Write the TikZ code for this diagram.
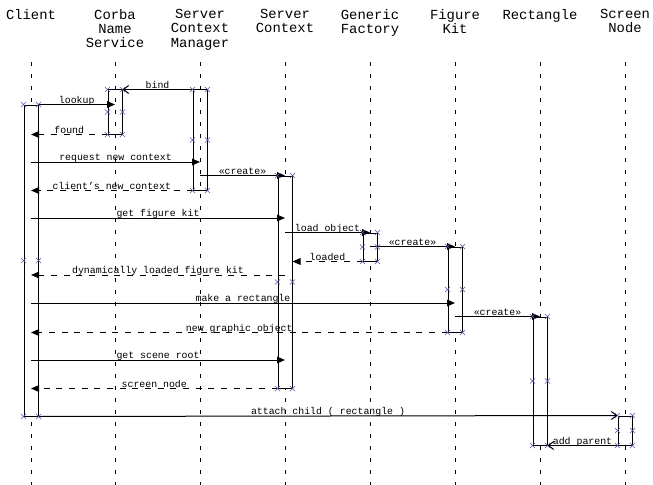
\documentclass[tikz,border=0pt]{standalone}
\usepackage{fontspec}
\usepackage{tikz}
\setmainfont{Liberation Mono}
\definecolor{markBlue}{RGB}{88, 88, 168}
\usetikzlibrary{arrows.meta, shapes.misc}

\begin{document}
\begin{tikzpicture}[
    x=0.75pt, y=-0.75pt,
    head/.style={anchor=north, align=center, inner sep=0pt, font=\fontsize{10.4}{10.7}\selectfont},
    life/.style={line width=0.75pt, dash pattern=on 3pt off 6pt},
    act/.style={rectangle, draw, line width=0.75pt, minimum width=10.5pt, inner sep=0pt},
    call/.style={line width=0.75pt, -{Triangle[length=6pt, width=5pt]}},
    reply/.style={call, dash pattern=on 4.5pt off 5pt},
    async/.style={line width=0.75pt, -{Straight Barb[length=4pt, width=6pt]}},
    lbl/.style={midway, anchor=base, yshift=1pt, inner sep=0pt, font=\fontsize{7.4}{8}\selectfont},
    xm/.style={cross out, draw=markBlue, line width=0.4pt, minimum size=3.5pt, inner sep=0pt}
]
    \fill[white] (0,0) rectangle (653,485);
    \useasboundingbox (0,0) rectangle (653,485);

    % objects
    \node[head] (client) at (31,9) {Client};
    \node[head] (corba) at (115,9) {Corba\\Name\\Service};
    \node[head] (scm) at (200,9) {Server\\Context\\Manager};
    \node[head] (sc) at (285,9) {Server\\Context};
    \node[head] (gf) at (370,9) {Generic\\Factory};
    \node[head] (fk) at (455,9) {Figure\\Kit};
    \node[head] (rect) at (540,9) {Rectangle};
    \node[head] (screen) at (625,9) {Screen\\Node};

    \foreach \n in {client, corba, scm, sc, gf, fk, rect, screen}
        \draw[life] (\n |- 0,62) -- (\n |- 0,485);

    % activations
    \foreach \n/\t/\b/\m/\f in {client/105/416/260.5/white, corba/90/134/112/none,
        scm/90/190/140/none, sc/176/388/282/white, gf/233/261/247/white,
        fk/247/332/289.5/white, rect/317/445/381/white, screen/416/445/430.5/white}
        \node[act, fill=\f, minimum height={(\b-\t)*0.75pt}] (\n-act) at (\n |- 0,\m) {};

    % messages
    \draw[async] (scm-act.north west) -- (corba-act.north east) node[lbl] {bind};
    \draw[call] (client-act.north east) -- (corba |- client-act.north) node[lbl] {lookup};
    \draw[reply] (corba-act.south west) -- (client |- corba-act.south) node[lbl] {found};
    \draw[call] (client |- 0,162) -- (scm |- 0,162) node[lbl] {request new context};
    \draw[call] (scm |- sc-act.north) -- (sc |- sc-act.north) node[lbl] {«create»};
    \draw[reply] (scm-act.south west) -- (client |- scm-act.south) node[lbl] {client's new context};
    \draw[call] (client |- 0,218) -- (sc |- 0,218) node[lbl] {get figure kit};
    \draw[call] (sc |- gf-act.north) -- (gf |- gf-act.north) node[lbl] {load object};
    \draw[reply] (gf-act.south west) -- (sc-act.east |- gf-act.south) node[lbl] {loaded};
    \draw[call] (gf |- fk-act.north) -- (fk |- fk-act.north) node[lbl] {«create»};
    \draw[reply] (sc |- 0,275) -- (client |- 0,275) node[lbl] {dynamically loaded figure kit};
    \draw[call] (client |- 0,303) -- (fk |- 0,303) node[lbl] {make a rectangle};
    \draw[call] (fk |- rect-act.north) -- (rect |- rect-act.north) node[lbl] {«create»};
    \draw[reply] (fk-act.south west) -- (client |- fk-act.south) node[lbl] {new graphic object};
    \draw[call] (client |- 0,360) -- (sc |- 0,360) node[lbl] {get scene root};
    \draw[reply] (sc-act.south west) -- (client |- sc-act.south) node[lbl] {screen node};
    \draw[async] (client-act.south east) -- (screen-act.north west) node[lbl] {attach child ( rectangle )};
    \draw[async] (screen-act.south west) -- (rect-act.south east) node[lbl] {add parent};

    % corner marks
    \foreach \n in {client, corba, scm, sc, gf, fk, rect, screen}
        \foreach \a in {north west, west, south west, north east, east, south east}
            \node[xm] at (\n-act.\a) {};
\end{tikzpicture}
\end{document}
